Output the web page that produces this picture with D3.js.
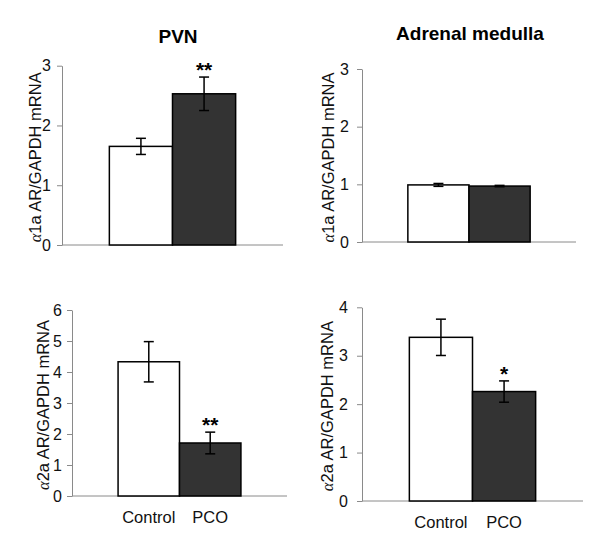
<!DOCTYPE html>
<html>
<head>
<meta charset="utf-8">
<script src="https://cdn.jsdelivr.net/npm/d3@7"></script>
<style>
  body { margin: 0; background: #fff; }
  svg { display: block; }
</style>
</head>
<body>
<svg id="chart" width="600" height="546"></svg>
<script>
const categories = ["Control", "PCO"];
const panelTitles = ["PVN", "Adrenal medulla"];
const receptorLabels = ["1a", "2a"];

// Values [Control, PCO] with SEM
const pvnA1aMeans = [1.65, 2.53];
const pvnA1aErrors = [0.135, 0.28];
const adrA1aMeans = [0.99, 0.97];
const adrA1aErrors = [0.025, 0.012];
const pvnA2aMeans = [4.33, 1.71];
const pvnA2aErrors = [0.65, 0.35];
const adrA2aMeans = [3.38, 2.26];
const adrA2aErrors = [0.375, 0.22];

const pvnA1aStars = ["", "**"];
const adrA1aStars = ["", ""];
const pvnA2aStars = ["", "**"];
const adrA2aStars = ["", "*"];

const ticksA1a = [0, 1, 2, 3];
const ticksPvnA2a = [0, 1, 2, 3, 4, 5, 6];
const ticksAdrA2a = [0, 1, 2, 3, 4];

const fills = ["#ffffff", "#333333"];

const svg = d3.select("#chart");
const font = "Liberation Sans, Arial, Helvetica, sans-serif";

const panels = [
  { means: pvnA1aMeans, errs: pvnA1aErrors, stars: pvnA1aStars, ticks: ticksA1a, rec: receptorLabels[0],
    x0: 62, x1: 283, y0: 245, yTop: 65.7, labelX: 35, tickRight: 51, showCats: false },
  { means: adrA1aMeans, errs: adrA1aErrors, stars: adrA1aStars, ticks: ticksA1a, rec: receptorLabels[0],
    x0: 362, x1: 576, y0: 242, yTop: 69, labelX: 328, tickRight: 349, showCats: false },
  { means: pvnA2aMeans, errs: pvnA2aErrors, stars: pvnA2aStars, ticks: ticksPvnA2a, rec: receptorLabels[1],
    x0: 72, x1: 287, y0: 496, yTop: 310, labelX: 43, tickRight: 62, showCats: true },
  { means: adrA2aMeans, errs: adrA2aErrors, stars: adrA2aStars, ticks: ticksAdrA2a, rec: receptorLabels[1],
    x0: 362, x1: 583, y0: 501, yTop: 307.3, labelX: 327, tickRight: 348, showCats: true }
];

panels.forEach(p => {
  const g = svg.append("g");
  const maxT = p.ticks[p.ticks.length - 1];
  const y = d3.scaleLinear().domain([0, maxT]).range([p.y0, p.yTop]);
  const x = d3.scaleBand().domain(categories).range([p.x0, p.x1]).paddingInner(0).paddingOuter(0.75);

  // y axis (line + ticks)
  const yAxis = d3.axisLeft(y).tickValues(p.ticks).tickFormat("").tickSize(5).tickSizeOuter(0);
  const ya = g.append("g").attr("transform", `translate(${p.x0},0)`).call(yAxis);
  ya.select(".domain").attr("stroke", "#8a8a8a").attr("stroke-width", 1);
  ya.selectAll(".tick line").attr("stroke", "#8a8a8a");

  // tick labels
  g.selectAll("text.tl").data(p.ticks).enter().append("text")
    .attr("class", "tl")
    .attr("x", p.tickRight)
    .attr("y", d => y(d))
    .attr("dy", "0.36em")
    .attr("text-anchor", "end")
    .attr("font-family", font).attr("font-size", 16).attr("fill", "#111")
    .text(d => d);

  // x axis line
  const xa = g.append("g").attr("transform", `translate(0,${p.y0})`)
    .call(d3.axisBottom(x).tickSize(0).tickFormat(""));
  xa.select(".domain").attr("stroke", "#8a8a8a").attr("stroke-width", 1)
    .attr("d", `M${p.x0},0H${p.x1}`);

  // bars
  g.selectAll("rect.bar").data(categories).enter().append("rect")
    .attr("class", "bar")
    .attr("x", d => x(d))
    .attr("width", x.bandwidth())
    .attr("y", (d, i) => y(p.means[i]))
    .attr("height", (d, i) => y(0) - y(p.means[i]))
    .attr("fill", (d, i) => fills[i])
    .attr("stroke", "#000").attr("stroke-width", 1.5);

  // error bars
  const cap = 5;
  categories.forEach((c, i) => {
    const cx = x(c) + x.bandwidth() / 2;
    const hi = y(p.means[i] + p.errs[i]);
    const lo = y(p.means[i] - p.errs[i]);
    const eg = g.append("g").attr("stroke", "#000").attr("stroke-width", 1.5);
    eg.append("line").attr("x1", cx).attr("x2", cx).attr("y1", hi).attr("y2", lo);
    eg.append("line").attr("x1", cx - cap).attr("x2", cx + cap).attr("y1", hi).attr("y2", hi);
    eg.append("line").attr("x1", cx - cap).attr("x2", cx + cap).attr("y1", lo).attr("y2", lo);
    if (p.stars[i]) {
      g.append("text").attr("x", cx).attr("y", hi - 6)
        .attr("text-anchor", "middle")
        .attr("font-family", font).attr("font-weight", "bold").attr("font-size", 21)
        .attr("dy", "0.3em")
        .text(p.stars[i]);
    }
  });

  // category labels
  if (p.showCats) {
    g.selectAll("text.cat").data(categories).enter().append("text")
      .attr("class", "cat")
      .attr("x", d => x(d) + x.bandwidth() / 2)
      .attr("y", p.y0 + 27)
      .attr("text-anchor", "middle")
      .attr("font-family", font).attr("font-size", 16.5).attr("fill", "#111")
      .text(d => d);
  }

  // y label
  const cy = (p.y0 + p.yTop) / 2 + 2;
  const lab = g.append("text")
    .attr("transform", `translate(${p.labelX + 6},${cy}) rotate(-90)`)
    .attr("text-anchor", "middle")
    .attr("font-family", font).attr("font-size", 16.5).attr("fill", "#111");
  lab.append("tspan").attr("font-family", "Liberation Serif, DejaVu Serif, serif").attr("font-style", "italic").text("α");
  lab.append("tspan").text(p.rec + " AR/GAPDH mRNA");
});

// titles
svg.append("text").attr("x", 178).attr("y", 43).attr("text-anchor", "middle")
  .attr("font-family", font).attr("font-weight", "bold").attr("font-size", 19).text(panelTitles[0]);
svg.append("text").attr("x", 470).attr("y", 40).attr("text-anchor", "middle")
  .attr("font-family", font).attr("font-weight", "bold").attr("font-size", 19).text(panelTitles[1]);
</script>
</body>
</html>
